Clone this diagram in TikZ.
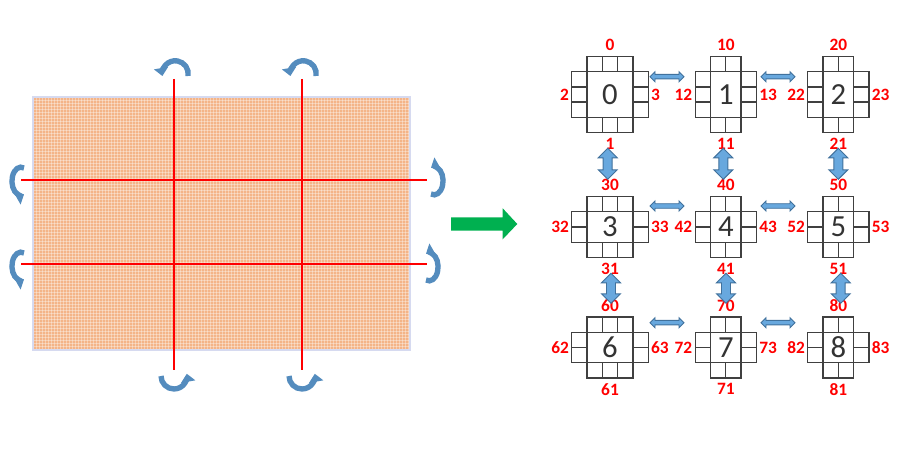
\documentclass[tikz,border=0pt]{standalone}
\usepackage{fontspec}
\setmainfont{Carlito}
\usetikzlibrary{positioning, calc, arrows.meta}

\definecolor{sheet}{RGB}{244,180,136}
\definecolor{sheetedge}{RGB}{214,218,240}
\definecolor{turnblue}{RGB}{84,140,190}
\definecolor{linkfill}{RGB}{104,168,222}
\definecolor{linkedge}{RGB}{65,113,156}
\definecolor{goright}{RGB}{0,176,80}
\definecolor{tileline}{RGB}{64,64,64}

% one tile: #1 digit, #2 x, #3 y, #4 cells across, #5 cells down, #6 label prefix
\newcommand{\tile}[6]{%
  \pgfmathsetmacro\hw{#4*7.65}%
  \pgfmathsetmacro\hh{#5*7.65}%
  \node[core, minimum width=#4*15.3*0.75pt, minimum height=#5*15.3*0.75pt] (t#1) at (#2,#3) {#1};
  \foreach \k in {1,...,#4} {
    \draw[cell] ({#2-\hw+(\k-1)*15.3},{#3-\hh-15.3}) rectangle ++(15.3,15.3);
    \draw[cell] ({#2-\hw+(\k-1)*15.3},{#3+\hh}) rectangle ++(15.3,15.3);
  }
  \foreach \k in {1,...,#5} {
    \draw[cell] ({#2-\hw-15.3},{#3-\hh+(\k-1)*15.3}) rectangle ++(15.3,15.3);
    \draw[cell] ({#2+\hw},{#3-\hh+(\k-1)*15.3}) rectangle ++(15.3,15.3);
  }
  \coordinate (t#1-n) at (#2,{#3-\hh-15.3});
  \coordinate (t#1-s) at (#2,{#3+\hh+15.3});
  \coordinate (t#1-w) at ({#2-\hw-15.3},#3);
  \coordinate (t#1-e) at ({#2+\hw+15.3},#3);
  \node[lbl, above=2.8pt of t#1-n] (t#1-l0) {#60};
  \node[lbl, below=2.8pt of t#1-s] (t#1-l1) {#61};
  \node[lbl, left=1pt of t#1-w]    (t#1-l2) {#62};
  \node[lbl, right=1pt of t#1-e]   (t#1-l3) {#63};
}

% double arrow between tiles: #1 name, #2 centre, #3 angle, #4 length, #5 head width, #6 shaft width
\newcommand{\link}[6]{%
  \coordinate (#1) at #2;
  \begin{scope}[shift={(#1)}, rotate=#3]
    \pgfmathsetmacro\al{#4/2}\pgfmathsetmacro\ah{#5/2}%
    \pgfmathsetmacro\as{#6/2}\pgfmathsetmacro\ak{#4/2-#5/2}%
    \draw[linkarrow] (-\al,0) -- (-\ak,-\ah) -- (-\ak,-\as) -- (\ak,-\as) -- (\ak,-\ah)
      -- (\al,0) -- (\ak,\ah) -- (\ak,\as) -- (-\ak,\as) -- (-\ak,\ah) -- cycle;
  \end{scope}}

\begin{document}
\begin{tikzpicture}[x=0.75pt, y=-0.75pt,
    core/.style={draw=tileline, line width=1pt, inner sep=0pt,
      font=\fontsize{23}{27}\selectfont, text=black!80},
    cell/.style={draw=tileline, line width=1pt},
    lbl/.style={red, inner sep=1pt, font=\fontsize{13}{15}\selectfont\bfseries},
    cut/.style={red, line width=2.2pt},
    turn/.style={turnblue, line width=4pt, -{Triangle[width=10.5pt,length=6pt]}},
    linkarrow/.style={draw=linkedge, fill=linkfill, line width=0.7pt, line join=miter}]
  \useasboundingbox (0,0) rectangle (912,463);

  % the sheet
  \fill[sheet, draw=sheetedge, line width=1.5pt] (33,97) rectangle (410,350);
  \foreach \gx in {36,39,...,408}
    \draw[white, opacity=0.35, line width=0.3pt] (\gx,98) -- (\gx,349);
  \foreach \gy in {100,103,...,348}
    \draw[white, opacity=0.35, line width=0.3pt] (34,\gy) -- (409,\gy);

  % cut lines
  \draw[cut] (174,79) -- (174,370);
  \draw[cut] (302,79) -- (302,370);
  \draw[cut] (21,180) -- (427,180);
  \draw[cut] (21,264) -- (427,264);

  % turning arrows
  \draw[turn] (188,76) arc[start angle=10, end angle=-190, radius=13];
  \draw[turn] (316,76) arc[start angle=10, end angle=-190, radius=13];
  \draw[turn] (161,376) arc[start angle=180, end angle=-10, radius=13];
  \draw[turn] (289,376) arc[start angle=180, end angle=-10, radius=13];
  \draw[turn] (24,168) arc[start angle=-70, end angle=-290, x radius=9, y radius=14];
  \draw[turn] (24,253) arc[start angle=-70, end angle=-290, x radius=9, y radius=14];
  \draw[turn] (431,194) arc[start angle=110, end angle=-110, x radius=9, y radius=14];
  \draw[turn] (426,280) arc[start angle=110, end angle=-110, x radius=9, y radius=14];

  % big arrow
  \fill[goright] (451,217.3) -- (502.7,217.3) -- (502.7,208.3) -- (517.3,224)
    -- (502.7,239.3) -- (502.7,230.7) -- (451,230.7) -- cycle;

  % tiles
  \tile{0}{610}{94.5}{3}{3}{}
  \tile{1}{725.8}{94.5}{2}{3}{1}
  \tile{2}{838.4}{94.5}{2}{3}{2}
  \tile{3}{610}{227}{3}{2}{3}
  \tile{4}{725.8}{227}{2}{2}{4}
  \tile{5}{838.4}{227}{2}{2}{5}
  \tile{6}{610}{347.5}{3}{2}{6}
  \tile{7}{725.8}{347.5}{2}{2}{7}
  \tile{8}{838.4}{347.5}{2}{2}{8}

  % links between tiles
  \link{l01}{(667,76.7)}{0}{34}{10}{4.5}
  \link{l12}{(778,76.7)}{0}{34}{10}{4.5}
  \link{l34}{(667,206)}{0}{34}{10}{4.5}
  \link{l45}{(778,206)}{0}{34}{10}{4.5}
  \link{l67}{(667,322.7)}{0}{34}{10}{4.5}
  \link{l78}{(778,322.7)}{0}{34}{10}{4.5}
  \link{l03}{(607.7,163.8)}{90}{31}{19}{9}
  \link{l14}{(723.3,163.8)}{90}{31}{19}{9}
  \link{l25}{(838.3,163.8)}{90}{31}{19}{9}
  \link{l36}{(611,288.3)}{90}{30}{19}{9}
  \link{l47}{(726,288.3)}{90}{30}{19}{9}
  \link{l58}{(840.7,288.3)}{90}{30}{19}{9}
\end{tikzpicture}
\end{document}
